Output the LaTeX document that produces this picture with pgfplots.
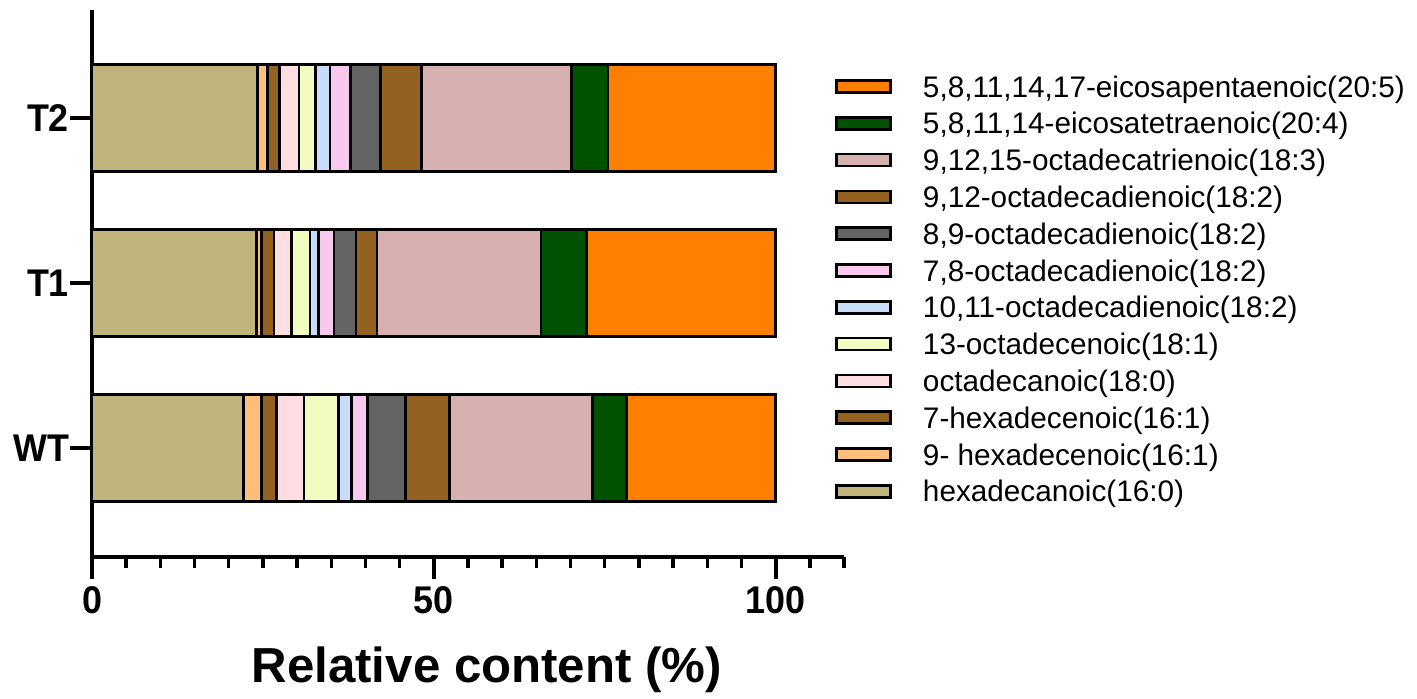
\documentclass[border=0pt]{standalone}
\usepackage{fontspec}
\setmainfont{Liberation Sans}
\newfontfamily\tickfont{Liberation Sans}[FakeStretch=0.93]
\usepackage{pgfplots}
\usepackage{pgfplotstable}
\pgfplotsset{compat=1.18}

\definecolor{c160}{RGB}{191,181,124}
\definecolor{c161a}{RGB}{255,190,122}
\definecolor{c161b}{RGB}{147,98,32}
\definecolor{c180}{RGB}{255,221,224}
\definecolor{c181}{RGB}{243,252,192}
\definecolor{c1011}{RGB}{198,220,248}
\definecolor{c78}{RGB}{248,200,238}
\definecolor{c89}{RGB}{100,100,100}
\definecolor{c912}{RGB}{148,98,32}
\definecolor{c183}{RGB}{215,176,176}
\definecolor{c204}{RGB}{0,82,0}
\definecolor{c205}{RGB}{255,128,0}

\pgfplotstableread{
y c160 c161a c161b c180 c181 c1011 c78 c89 c912 c183 c204 c205
0 22.2 2.6 2.2 4.0 5.1 1.9 2.3 5.6 6.4 20.9 5.0 21.8
1 24.1 0.7 1.8 2.6 2.7 1.2 2.3 3.2 3.1 24.0 6.6 27.7
2 24.2 1.5 1.7 2.9 2.4 2.1 3.0 4.4 6.0 21.9 5.4 24.5
}\data

\begin{document}
\begin{tikzpicture}
\path[use as bounding box] (-46pt,-70.5pt) rectangle (662.5pt,278.5pt);
\begin{axis}[
  scale only axis,
  width=376pt, height=273.5pt,
  xbar stacked,
  bar width=53.5pt,
  xmin=0, xmax=110,
  ymin=-0.66, ymax=2.655,
  axis x line*=bottom,
  axis y line*=left,
  axis line style={line width=2pt},
  xtick={0,50,100},
  xticklabels={0,50,100},
  minor xtick={5,10,15,20,25,30,35,40,45,55,60,65,70,75,80,85,90,95,105,110},
  ytick={0,1,2},
  yticklabels={WT,T1,T2},
  tick align=outside,
  major tick length=11pt,
  minor tick length=5.5pt,
  major tick style={line width=1.9pt,black},
  minor tick style={line width=1.7pt,black},
  ticklabel style={font=\tickfont\bfseries\fontsize{19.3}{19.3}\selectfont},
  yticklabel style={xshift=3pt},
  xlabel={Relative content (\%)},
  xlabel style={font=\bfseries\fontsize{24.6}{24.6}\selectfont, at={(axis description cs:0.525,0)}, anchor=base, yshift=-62.5pt},
  every axis plot/.append style={draw=black, line width=1.3pt},
  legend image code/.code={\draw[#1,line width=1.3pt] (0pt,-3pt) rectangle (27pt,3pt);},
  reverse legend,
  legend cell align=left,
  legend style={draw=none, fill=none, inner sep=0pt, at={(0.988,0.8804)}, anchor=north west,
    font=\fontsize{14.86}{14.86}\selectfont,
    nodes={inner sep=0pt, text height=10.65pt, text depth=0pt},
    row sep=7.75pt, column sep=15.5pt},
  clip=false,
]
\addplot[fill=c160] table[x=c160,y=y]{\data};
\addplot[fill=c161a] table[x=c161a,y=y]{\data};
\addplot[fill=c161b] table[x=c161b,y=y]{\data};
\addplot[fill=c180] table[x=c180,y=y]{\data};
\addplot[fill=c181] table[x=c181,y=y]{\data};
\addplot[fill=c1011] table[x=c1011,y=y]{\data};
\addplot[fill=c78] table[x=c78,y=y]{\data};
\addplot[fill=c89] table[x=c89,y=y]{\data};
\addplot[fill=c912] table[x=c912,y=y]{\data};
\addplot[fill=c183] table[x=c183,y=y]{\data};
\addplot[fill=c204] table[x=c204,y=y]{\data};
\addplot[fill=c205] table[x=c205,y=y]{\data};
\legend{hexadecanoic(16:0),9- hexadecenoic(16:1),7-hexadecenoic(16:1),octadecanoic(18:0),13-octadecenoic(18:1),{10,11-octadecadienoic(18:2)},{7,8-octadecadienoic(18:2)},{8,9-octadecadienoic(18:2)},{9,12-octadecadienoic(18:2)},{9,12,15-octadecatrienoic(18:3)},{5,8,11,14-eicosatetraenoic(20:4)},{5,8,11,14,17-eicosapentaenoic(20:5)}}
\end{axis}
\end{tikzpicture}
\end{document}
